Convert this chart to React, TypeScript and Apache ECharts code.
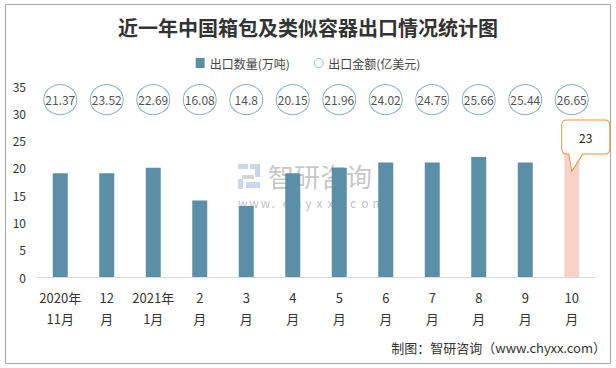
import React, { useEffect, useRef } from "react";
import * as echarts from "echarts";

const categories = [
  "2020年\n11月", "12\n月", "2021年\n1月", "2\n月", "3\n月", "4\n月",
  "5\n月", "6\n月", "7\n月", "8\n月", "9\n月", "10\n月",
];
const exportVolume = [19, 19, 20, 14, 13, 19, 20, 21, 21, 22, 21, 23];
const exportValue = [21.37, 23.52, 22.69, 16.08, 14.8, 20.15, 21.96, 24.02, 24.75, 25.66, 25.44, 26.65];
const seriesNames = ["出口数量(万吨)", "出口金额(亿美元)"];
const titleText = "近一年中国箱包及类似容器出口情况统计图";
const footerText = "制图：智研咨询（www.chyxx.com）";
const watermarkText = "智研咨询";
const watermarkUrl = "www.chyxx.com";

const CALLOUT =
  "path://M5,0 L43,0 Q48,0 48,5 L48,29 Q48,34 43,34 L21,34 L10,51 L7,34 L5,34 Q0,34 0,29 L0,5 Q0,0 5,0 Z";

const FONT = "'Noto Sans CJK SC', 'Noto Sans', sans-serif";

export default function App() {
  const ref = useRef<HTMLDivElement>(null);
  useEffect(() => {
    document.body.style.margin = "0";
    const chart = echarts.init(ref.current!, null, { renderer: "svg" });
    const barColor = "#5b8ea7";
    const highlight = "#f8d2c9";
    const rowY = 32.5;
    const urlChars = watermarkUrl.split("").map((ch, i) => ({
      type: "text",
      x: i * 11.2,
      y: 32,
      style: { text: ch, font: `12px ${FONT}`, fill: "rgba(150,150,150,0.6)" },
    }));
    chart.setOption({
      animation: false,
      textStyle: { fontFamily: FONT },
      title: {
        text: titleText,
        left: "center",
        top: 12,
        textStyle: { fontSize: 20, fontWeight: "bold", color: "#333", fontFamily: FONT },
      },
      legend: {
        top: 52,
        left: "center",
        itemGap: 24,
        itemWidth: 9,
        itemHeight: 10,
        textStyle: { fontSize: 12, color: "#444", fontFamily: FONT },
        data: [
          { name: seriesNames[0], icon: "rect", itemStyle: { color: barColor } },
          {
            name: seriesNames[1],
            icon: "circle",
            itemStyle: { color: "#fff", borderColor: "#86abc2", borderWidth: 1 },
          },
        ],
      },
      grid: { left: 37, right: 21, top: 86, bottom: 91, containLabel: false },
      xAxis: {
        type: "category",
        data: categories,
        axisLine: { lineStyle: { color: "#d9d9d9" } },
        axisTick: { show: false },
        axisLabel: { color: "#333", fontSize: 13, lineHeight: 21, margin: 10, interval: 0, fontFamily: FONT },
      },
      yAxis: {
        type: "value",
        min: 0,
        max: 35,
        interval: 5,
        axisLine: { show: false },
        axisTick: { show: false },
        splitLine: { show: false },
        axisLabel: { color: "#333", fontSize: 12, margin: 11, fontFamily: FONT },
      },
      series: [
        {
          name: seriesNames[0],
          type: "bar",
          barWidth: 15,
          z: 3,
          data: exportVolume.map((v, i) => ({
            value: v,
            itemStyle: { color: i === exportVolume.length - 1 ? highlight : barColor },
          })),
          markPoint: {
            symbol: CALLOUT,
            symbolSize: [48, 51],
            symbolKeepAspect: false,
            symbolOffset: [14, -5.9],
            itemStyle: { color: "#fff", borderColor: "#ec9440", borderWidth: 1 },
            label: { show: true, color: "#222", fontSize: 12, offset: [0, -8.5], fontFamily: FONT },
            data: [
              {
                coord: [categories[categories.length - 1], exportVolume[exportVolume.length - 1]],
                value: exportVolume[exportVolume.length - 1],
              },
            ],
          },
        },
        {
          name: seriesNames[1],
          type: "scatter",
          symbol: "circle",
          symbolSize: [33, 30],
          z: 4,
          itemStyle: { color: "#fff", borderColor: "#6d9bb5", borderWidth: 1 },
          label: {
            show: true,
            position: "inside",
            color: "#222",
            fontSize: 12,
            fontFamily: FONT,
            formatter: (p: any) => String(p.value[2]),
          },
          data: exportValue.map((v, i) => [categories[i], rowY, v]),
        },
      ],
      graphic: [
        {
          type: "rect",
          z: -10,
          shape: { x: 5.5, y: 4.5, width: 605, height: 359 },
          style: { fill: "none", stroke: "#a6a6a6", lineWidth: 1 },
          silent: true,
        },
        {
          type: "group",
          z: 1,
          left: 238,
          top: 162,
          silent: true,
          children: [
            { type: "rect", shape: { x: 0, y: 0, width: 10, height: 5 }, style: { fill: "#c8d8ea" } },
            { type: "rect", shape: { x: 12, y: 0, width: 10, height: 5 }, style: { fill: "#c8d8ea" } },
            { type: "rect", shape: { x: 17, y: 5, width: 5, height: 8 }, style: { fill: "#c8d8ea" } },
            { type: "rect", shape: { x: 4, y: 11, width: 12, height: 4 }, style: { fill: "#d5d5d5" } },
            { type: "rect", shape: { x: 0, y: 15, width: 5, height: 10 }, style: { fill: "#c8d8ea" } },
            { type: "rect", shape: { x: 8, y: 18, width: 14, height: 6 }, style: { fill: "#c8d8ea" } },
            {
              type: "text",
              x: 30,
              y: -2,
              style: {
                text: watermarkText,
                font: `26px ${FONT}`,
                fill: "rgba(150,150,150,0.55)",
              },
            },
            ...urlChars,
          ],
        },
        {
          type: "text",
          right: 10,
          top: 341,
          silent: true,
          style: { text: footerText, font: `13px ${FONT}`, fill: "#333" },
        },
      ],
    });
    return () => chart.dispose();
  }, []);
  return <div ref={ref} style={{ width: 616, height: 368 }} />;
}
